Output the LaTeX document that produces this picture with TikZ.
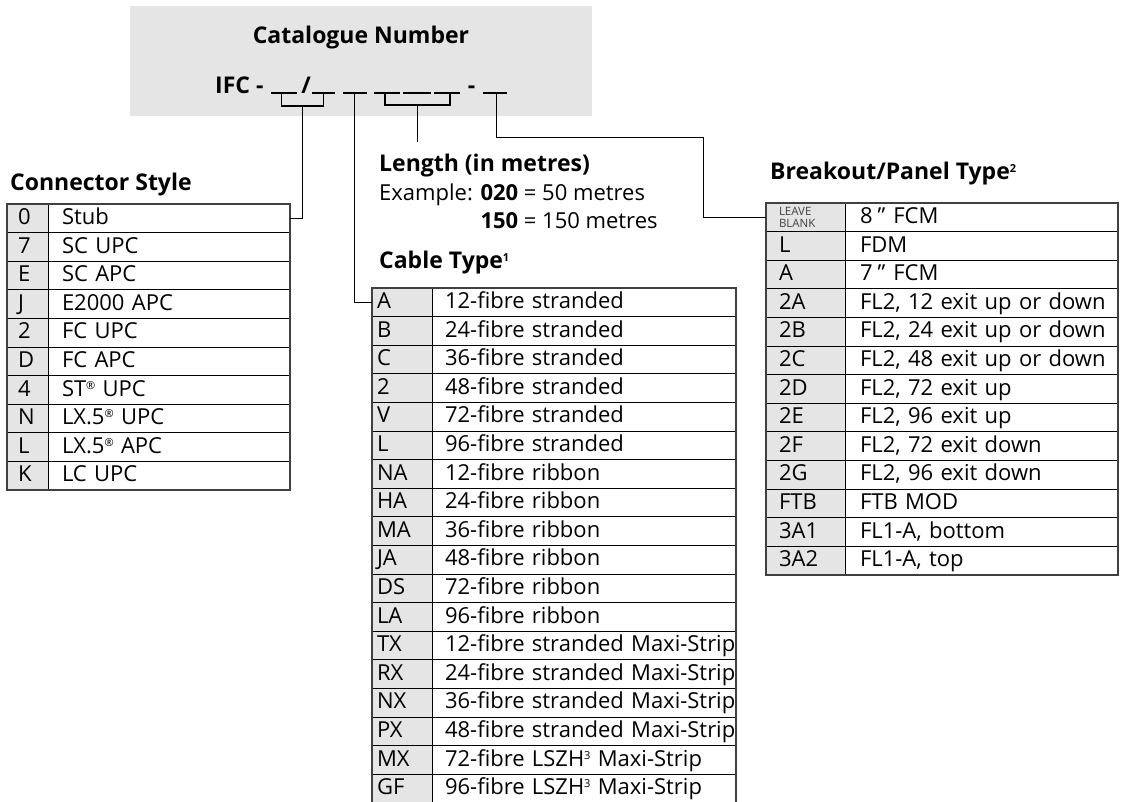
\documentclass[tikz,border=0pt]{standalone}
\usepackage{fontspec}
\setmainfont{Open Sans}
\usetikzlibrary{positioning}

\definecolor{boxgrey}{gray}{0.90}
\definecolor{cellgrey}{gray}{0.90}
\definecolor{framegrey}{gray}{0.25}

\newcommand{\hdfont}{\fontsize{23}{28}\selectfont\bfseries}
\newcommand{\cellfont}{\fontsize{22}{28}\selectfont}
\newcommand{\upmark}[1]{\raisebox{7pt}{\fontsize{11}{11}\selectfont #1}}
\newcommand{\inch}{\char"22}

\begin{document}
\begin{tikzpicture}[x=1pt, y=-1pt,
    leader/.style={line width=1.2pt, black},
    headtext/.style={inner sep=0pt, font=\hdfont, anchor=base west},
    cell/.style={draw=black, line width=1pt, outer sep=0pt, inner sep=0pt,
        minimum height=28.6pt, text height=20.5pt, text depth=8.1pt,
        align=left, font=\cellfont,
        execute at begin node={\noindent\hspace*{#1}\hbox\bgroup},
        execute at end node={\egroup}},
    cscode/.style={cell=11pt, fill=cellgrey, text width=41pt},
    csdesc/.style={cell=14pt, text width=242pt},
    ctcode/.style={cell=5pt, fill=cellgrey, text width=60pt},
    ctdesc/.style={cell=13pt, text width=304pt},
    bpcode/.style={cell=13pt, fill=cellgrey, text width=79pt},
    bpdesc/.style={cell=15pt, text width=273pt},
    tableframe/.style={draw=framegrey, line width=1.8pt}]

    \useasboundingbox (0,0) rectangle (1125,801);

    % ---- Parameters ----
    \def\uy{93}        % underline height of the number
    \def\by{106}       % height of the small brackets

    % ---- Catalogue number box ----
    \node[fill=boxgrey, inner sep=0pt, minimum width=462pt, minimum height=110pt,
        anchor=north west] (catbox) at (130,6) {};
    \node[headtext, anchor=base] (cattitle) at (361,43) {Catalogue Number};
    \node[headtext] (ifc) at (215,\uy) {IFC -};
    \node[headtext, anchor=base] (slash) at (306,\uy) {/};
    \node[headtext, anchor=base] (dash) at (471.5,\uy) {-};

    % ---- Blanks to fill in ----
    \draw[leader] (271,\uy) -- (297,\uy);
    \draw[leader] (312,\uy) -- (335,\uy);
    \draw[leader] (343,\uy) -- (367,\uy);
    \draw[leader] (374,\uy) -- (400,\uy);
    \draw[leader] (403,\uy) -- (431,\uy);
    \draw[leader] (434,\uy) -- (460,\uy);
    \draw[leader] (483,\uy) -- (507,\uy);

    % ---- Brackets under the blanks ----
    \draw[leader] (281.7,\uy) |- (323.3,\by) -- (323.3,\uy);
    \draw[leader] (385,\uy) |- (450,\by-1) -- (450,\uy);
    \coordinate (cstap) at (302.7,\by);
    \coordinate (cttap) at (354.3,\uy);
    \coordinate (lentap) at (417.7,\by-1);
    \coordinate (bptap) at (496.7,\uy);
    \coordinate (lenend) at (417.7,141.7);

    % ---- Connector Style ----
    \node[headtext] (cstitle) at (10,190) {Connector Style};
    \node[cscode, anchor=north west] (cs1) at (7,204) {0};
    \node[csdesc, right=0pt of cs1] (csd1) {Stub};
    \node[cscode, below=0pt of cs1] (cs2) {7};
    \node[csdesc, right=0pt of cs2] (csd2) {SC UPC};
    \node[cscode, below=0pt of cs2] (cs3) {E};
    \node[csdesc, right=0pt of cs3] (csd3) {SC APC};
    \node[cscode, below=0pt of cs3] (cs4) {J};
    \node[csdesc, right=0pt of cs4] (csd4) {E2000 APC};
    \node[cscode, below=0pt of cs4] (cs5) {2};
    \node[csdesc, right=0pt of cs5] (csd5) {FC UPC};
    \node[cscode, below=0pt of cs5] (cs6) {D};
    \node[csdesc, right=0pt of cs6] (csd6) {FC APC};
    \node[cscode, below=0pt of cs6] (cs7) {4};
    \node[csdesc, right=0pt of cs7] (csd7) {ST\upmark{®} UPC};
    \node[cscode, below=0pt of cs7] (cs8) {N};
    \node[csdesc, right=0pt of cs8] (csd8) {LX.5\upmark{®} UPC};
    \node[cscode, below=0pt of cs8] (cs9) {L};
    \node[csdesc, right=0pt of cs9] (csd9) {LX.5\upmark{®} APC};
    \node[cscode, below=0pt of cs9] (cs10) {K};
    \node[csdesc, right=0pt of cs10] (csd10) {LC UPC};
    \draw[tableframe] (cs1.north west) rectangle (csd10.south east);

    % ---- Length ----
    \node[headtext] (lentitle) at (379,171.7) {Length (in metres)};
    \node[inner sep=0pt, anchor=base west, font=\cellfont] (lenex) at (379,200.7)
        {\begin{tabular}[t]{@{}r@{}l@{}}
            Example: \textbf{020} & \ = 50 metres\\
            \textbf{150} & \ = 150 metres
         \end{tabular}};

    % ---- Cable Type ----
    \node[headtext] (cttitle) at (379,268) {Cable Type\upmark{1}};
    \node[ctcode, anchor=north west] (ct1) at (372,288) {A};
    \node[ctdesc, right=0pt of ct1] (ctd1) {12-fibre stranded};
    \node[ctcode, below=0pt of ct1] (ct2) {B};
    \node[ctdesc, right=0pt of ct2] (ctd2) {24-fibre stranded};
    \node[ctcode, below=0pt of ct2] (ct3) {C};
    \node[ctdesc, right=0pt of ct3] (ctd3) {36-fibre stranded};
    \node[ctcode, below=0pt of ct3] (ct4) {2};
    \node[ctdesc, right=0pt of ct4] (ctd4) {48-fibre stranded};
    \node[ctcode, below=0pt of ct4] (ct5) {V};
    \node[ctdesc, right=0pt of ct5] (ctd5) {72-fibre stranded};
    \node[ctcode, below=0pt of ct5] (ct6) {L};
    \node[ctdesc, right=0pt of ct6] (ctd6) {96-fibre stranded};
    \node[ctcode, below=0pt of ct6] (ct7) {NA};
    \node[ctdesc, right=0pt of ct7] (ctd7) {12-fibre ribbon};
    \node[ctcode, below=0pt of ct7] (ct8) {HA};
    \node[ctdesc, right=0pt of ct8] (ctd8) {24-fibre ribbon};
    \node[ctcode, below=0pt of ct8] (ct9) {MA};
    \node[ctdesc, right=0pt of ct9] (ctd9) {36-fibre ribbon};
    \node[ctcode, below=0pt of ct9] (ct10) {JA};
    \node[ctdesc, right=0pt of ct10] (ctd10) {48-fibre ribbon};
    \node[ctcode, below=0pt of ct10] (ct11) {DS};
    \node[ctdesc, right=0pt of ct11] (ctd11) {72-fibre ribbon};
    \node[ctcode, below=0pt of ct11] (ct12) {LA};
    \node[ctdesc, right=0pt of ct12] (ctd12) {96-fibre ribbon};
    \node[ctcode, below=0pt of ct12] (ct13) {TX};
    \node[ctdesc, right=0pt of ct13] (ctd13) {12-fibre stranded Maxi-Strip};
    \node[ctcode, below=0pt of ct13] (ct14) {RX};
    \node[ctdesc, right=0pt of ct14] (ctd14) {24-fibre stranded Maxi-Strip};
    \node[ctcode, below=0pt of ct14] (ct15) {NX};
    \node[ctdesc, right=0pt of ct15] (ctd15) {36-fibre stranded Maxi-Strip};
    \node[ctcode, below=0pt of ct15] (ct16) {PX};
    \node[ctdesc, right=0pt of ct16] (ctd16) {48-fibre stranded Maxi-Strip};
    \node[ctcode, below=0pt of ct16] (ct17) {MX};
    \node[ctdesc, right=0pt of ct17] (ctd17) {72-fibre LSZH\upmark{3} Maxi-Strip};
    \node[ctcode, below=0pt of ct17] (ct18) {GF};
    \node[ctdesc, right=0pt of ct18] (ctd18) {96-fibre LSZH\upmark{3} Maxi-Strip};
    \draw[tableframe] (ct1.north west) rectangle (ctd18.south east);

    % ---- Breakout/Panel Type ----
    \node[headtext] (bptitle) at (770,179) {Breakout/Panel Type\upmark{2}};
    \node[bpcode, anchor=north west] (bp1) at (766,203)
        {\raisebox{-4pt}{\fontsize{11.5}{12.5}\selectfont\color{black!75}%
         \begin{tabular}[b]{@{}l@{}}LEAVE\\BLANK\end{tabular}}};
    \node[bpdesc, right=0pt of bp1] (bpd1) {8\hspace{5pt}\inch\hspace{8pt}FCM};
    \node[bpcode, below=0pt of bp1] (bp2) {L};
    \node[bpdesc, right=0pt of bp2] (bpd2) {FDM};
    \node[bpcode, below=0pt of bp2] (bp3) {A};
    \node[bpdesc, right=0pt of bp3] (bpd3) {7\hspace{5pt}\inch\hspace{8pt}FCM};
    \node[bpcode, below=0pt of bp3] (bp4) {2A};
    \node[bpdesc, right=0pt of bp4] (bpd4) {FL2, 12 exit up or down};
    \node[bpcode, below=0pt of bp4] (bp5) {2B};
    \node[bpdesc, right=0pt of bp5] (bpd5) {FL2, 24 exit up or down};
    \node[bpcode, below=0pt of bp5] (bp6) {2C};
    \node[bpdesc, right=0pt of bp6] (bpd6) {FL2, 48 exit up or down};
    \node[bpcode, below=0pt of bp6] (bp7) {2D};
    \node[bpdesc, right=0pt of bp7] (bpd7) {FL2, 72 exit up};
    \node[bpcode, below=0pt of bp7] (bp8) {2E};
    \node[bpdesc, right=0pt of bp8] (bpd8) {FL2, 96 exit up};
    \node[bpcode, below=0pt of bp8] (bp9) {2F};
    \node[bpdesc, right=0pt of bp9] (bpd9) {FL2, 72 exit down};
    \node[bpcode, below=0pt of bp9] (bp10) {2G};
    \node[bpdesc, right=0pt of bp10] (bpd10) {FL2, 96 exit down};
    \node[bpcode, below=0pt of bp10] (bp11) {FTB};
    \node[bpdesc, right=0pt of bp11] (bpd11) {FTB MOD};
    \node[bpcode, below=0pt of bp11] (bp12) {3A1};
    \node[bpdesc, right=0pt of bp12] (bpd12) {FL1-A, bottom};
    \node[bpcode, below=0pt of bp12] (bp13) {3A2};
    \node[bpdesc, right=0pt of bp13] (bpd13) {FL1-A, top};
    \draw[tableframe] (bp1.north west) rectangle (bpd13.south east);

    % ---- Leaders ----
    \draw[leader] (cstap) |- (csd1.east);
    \draw[leader] (cttap) |- (ct1.west);
    \draw[leader] (lentap) -- (lenend);
    \draw[leader] (bptap) |- (703.3,137.3) |- (bp1.west);

\end{tikzpicture}
\end{document}
